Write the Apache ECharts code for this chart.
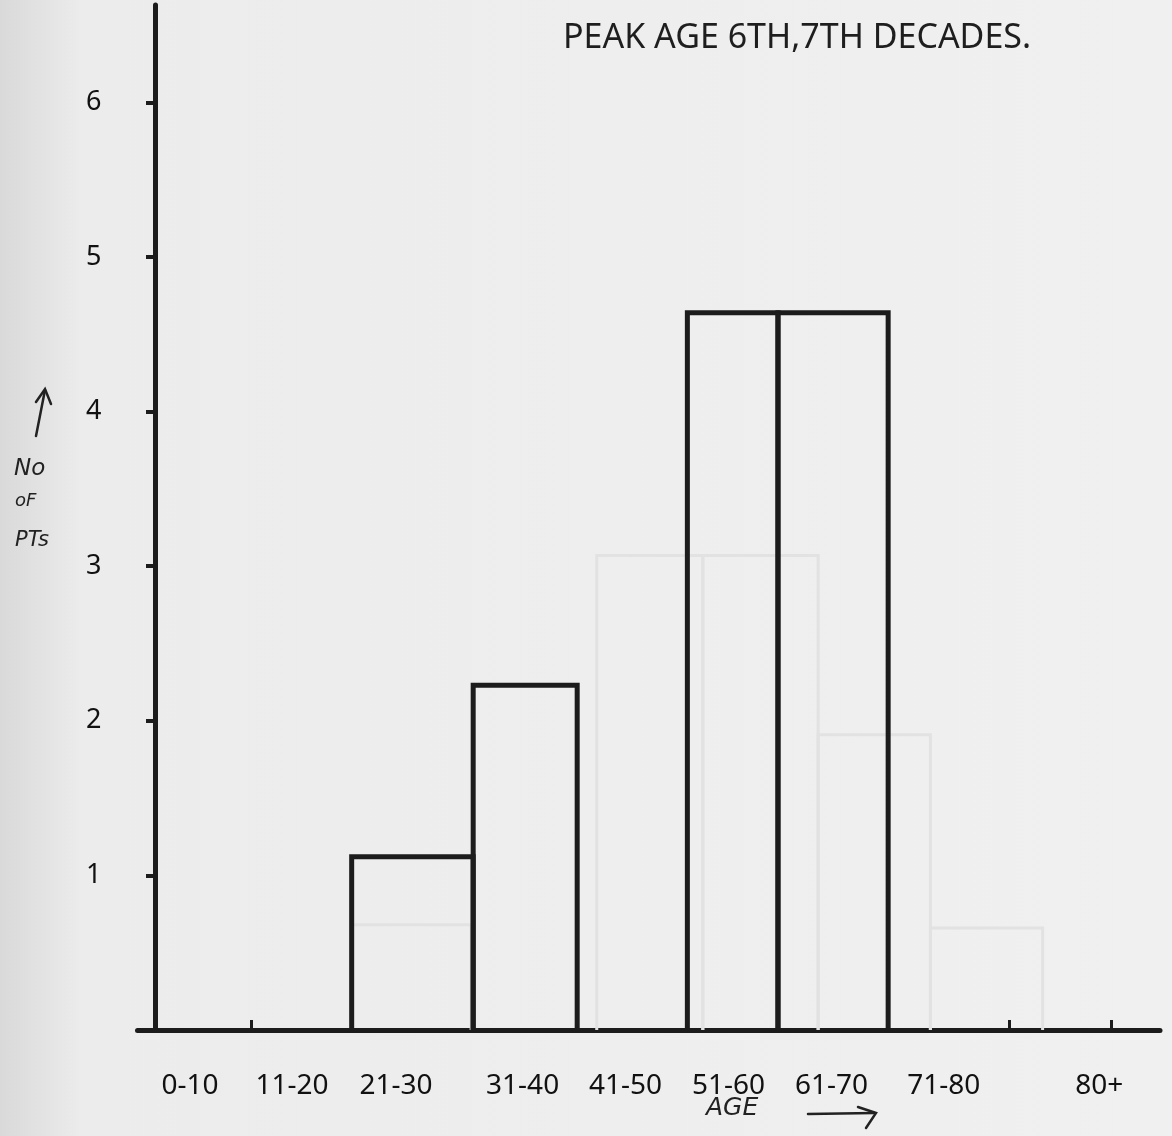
<!DOCTYPE html>
<html>
<head>
<meta charset="utf-8">
<title>Peak age</title>
<script src="https://cdn.jsdelivr.net/npm/echarts@6/dist/echarts.min.js"></script>
<style>
  html, body { margin: 0; padding: 0; background: #efefef; }
</style>
</head>
<body>
<div id="main" style="width: 1172px; height: 1136px;"></div>
<script type="text/javascript">
// age scale on the x axis (years), bars are hand-drawn so the edges are irregular
var binStart = [19.1, 30.9, 51.7, 60.5];
var binEnd   = [30.9, 41.0, 60.5, 71.2];
var counts   = [1.12, 2.23, 4.64, 4.64];

// faint bars showing through from the other side of the page
var ghostStart = [19.1, 42.9, 53.2, 64.4, 75.3];
var ghostEnd   = [30.7, 53.2, 64.4, 75.3, 86.2];
var ghostVals  = [0.68, 3.07, 3.07, 1.91, 0.66];

var ageLabels = ['0-10', '11-20', '21-30', '31-40', '41-50', '51-60', '61-70', '71-80', '80+'];
var labelPos  = [3.4, 13.3, 23.4, 35.7, 45.7, 55.7, 65.7, 76.6, 91.7];
var xTickPos  = [9.3, 83.0, 92.9];
var yTicks    = [1, 2, 3, 4, 5, 6];

var bars = [], ghosts = [];
for (var i = 0; i < counts.length; i++) bars.push([binStart[i], binEnd[i], counts[i]]);
for (var j = 0; j < ghostVals.length; j++) ghosts.push([ghostStart[j], ghostEnd[j], ghostVals[j]]);

function outline(color, width) {
  return function (params, api) {
    var top = api.coord([api.value(0), api.value(2)]);
    var bot = api.coord([api.value(1), 0]);
    return {
      type: 'polyline',
      shape: { points: [[top[0], bot[1]], [top[0], top[1]], [bot[0], top[1]], [bot[0], bot[1]]] },
      style: { stroke: color, lineWidth: width, fill: null, lineJoin: 'miter' }
    };
  };
}

var myChart = echarts.init(document.getElementById('main'));
var ink = '#1c1c1c';
var font = "'Noto Sans', 'DejaVu Sans', sans-serif";
var hand = "'DejaVu Sans', sans-serif";
var pen = { stroke: '#222', lineWidth: 2.5, fill: null, lineCap: 'round' };

var option = {
  backgroundColor: new echarts.graphic.LinearGradient(0, 0, 1, 0, [
    { offset: 0, color: '#d9d9d9' },
    { offset: 0.07, color: '#ececec' },
    { offset: 1, color: '#f0f0f0' }
  ]),
  animation: false,
  title: {
    text: 'PEAK AGE 6TH,7TH DECADES.',
    left: 558,
    top: 16,
    textStyle: { fontFamily: font, fontSize: 34, fontWeight: 'normal', color: '#1e1e1e' }
  },
  grid: { left: 137.5, right: 12, top: 5, bottom: 106 },
  xAxis: {
    type: 'value',
    min: -1.7,
    max: 97.6,
    splitLine: { show: false },
    axisLine: { lineStyle: { color: ink, width: 5 } },
    axisTick: { customValues: xTickPos, inside: true, length: 10, lineStyle: { color: ink, width: 3 } },
    axisLabel: {
      customValues: labelPos,
      margin: 42,
      fontFamily: font,
      fontSize: 28,
      color: '#111',
      formatter: function (v) {
        var k = labelPos.indexOf(v);
        return k >= 0 ? ageLabels[k] : '';
      }
    }
  },
  yAxis: {
    type: 'value',
    min: 0,
    max: 6.63,
    splitLine: { show: false },
    axisLine: { onZero: true, lineStyle: { color: ink, width: 5 } },
    axisTick: { customValues: yTicks, length: 9, lineStyle: { color: ink, width: 4 } },
    axisLabel: {
      customValues: yTicks,
      margin: 36,
      fontFamily: font,
      fontSize: 27,
      color: '#111'
    }
  },
  graphic: [
    // hand-drawn arrow beside the y axis
    { type: 'polyline', shape: { points: [[36, 436], [45, 390]] }, style: pen },
    { type: 'polyline', shape: { points: [[36, 402], [45, 389], [51, 404]] }, style: pen },
    { type: 'text', left: 14, top: 458,
      style: { text: 'No', font: 'italic 23px ' + hand, fill: '#222' } },
    { type: 'text', left: 15, top: 492,
      style: { text: 'oF', font: 'italic 18px ' + hand, fill: '#222' } },
    { type: 'text', left: 15, top: 530,
      style: { text: 'PTs', font: 'italic 21px ' + hand, fill: '#222' } },
    { type: 'text', left: 706, top: 1096,
      style: { text: 'AGE', font: 'italic 25px ' + hand, fill: '#222' } },
    // hand-drawn arrow after AGE
    { type: 'polyline', shape: { points: [[808, 1114], [874, 1113]] }, style: pen },
    { type: 'polyline', shape: { points: [[858, 1107], [876, 1113], [866, 1128]] }, style: pen }
  ],
  series: [
    {
      name: 'ghost',
      type: 'custom',
      renderItem: outline('#e2e2e2', 3),
      encode: { x: [0, 1], y: 2 },
      data: ghosts,
      z: 1
    },
    {
      name: 'patients',
      type: 'custom',
      renderItem: outline(ink, 5),
      encode: { x: [0, 1], y: 2 },
      data: bars,
      z: 3
    }
  ]
};
myChart.setOption(option);
</script>
</body>
</html>
